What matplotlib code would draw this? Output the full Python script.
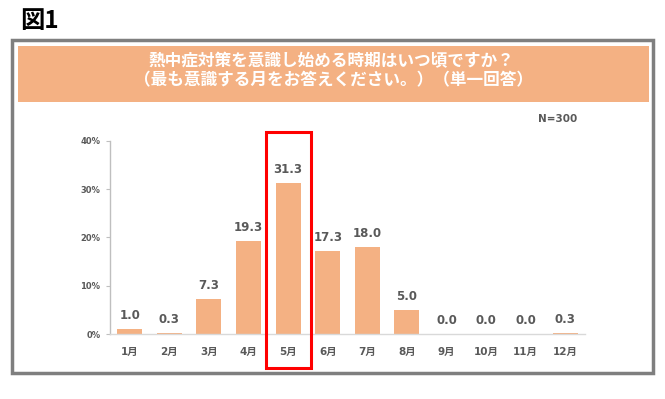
import matplotlib
matplotlib.use("Agg")
import matplotlib.pyplot as plt
from matplotlib.patches import Rectangle
import matplotlib.transforms as mtransforms

plt.rcParams['font.family'] = ['Noto Sans CJK JP', 'DejaVu Sans']

months = ['1月', '2月', '3月', '4月', '5月', '6月', '7月', '8月', '9月', '10月', '11月', '12月']
values = [1.0, 0.3, 7.3, 19.3, 31.3, 17.3, 18.0, 5.0, 0.0, 0.0, 0.0, 0.3]
yticks = [0, 10, 20, 30, 40]
ytick_labels = ['0%', '10%', '20%', '30%', '40%']
highlight = '5月'
title_lines = ['熱中症対策を意識し始める時期はいつ頃ですか？', '（最も意識する月をお答えください。）（単一回答）']
fig_label = '図1'
n_label = 'N=300'

W, H = 665, 399
fig = plt.figure(figsize=(W / 100, H / 100), dpi=100)

def fx(px):
    return px / W

def fy(py):
    return 1 - py / H

bar_color = '#F4B183'
text_color = '#595959'
num_font = ['DejaVu Sans', 'Noto Sans CJK JP']

# Figure label
fig.text(fx(20), fy(21), fig_label, fontsize=17.5, fontweight='bold', color='black',
         ha='left', va='center')

# Outer frame
fig.patches.append(Rectangle((fx(11.5), fy(373)), fx(653) - fx(11.5), fy(40) - fy(373),
                             transform=fig.transFigure, facecolor='white',
                             edgecolor='#7F7F7F', linewidth=2.5, zorder=-2))
# Header band
fig.patches.append(Rectangle((fx(18), fy(102)), fx(649) - fx(18), fy(46) - fy(102),
                             transform=fig.transFigure, facecolor=bar_color,
                             edgecolor='none', zorder=-1))
fig.text(fx(331), fy(61), title_lines[0], fontsize=12, fontweight='bold', color='white',
         ha='center', va='center')
fig.text(fx(333), fy(80), title_lines[1], fontsize=12, fontweight='bold', color='white',
         ha='center', va='center')
fig.text(fx(577), fy(119), n_label, fontsize=7.5, fontweight='bold', color=text_color,
         ha='right', va='center', family=num_font)

ax = fig.add_axes([fx(110), fy(334), fx(585) - fx(110), fy(141) - fy(334)])
ax.set_zorder(1)
x = list(range(len(months)))
ax.bar(x, values, width=0.63, color=bar_color, zorder=2)
for xi, v in zip(x, values):
    ax.annotate(f'{v:.1f}', (xi, v), xytext=(0, 5), textcoords='offset points',
                ha='center', va='bottom', fontsize=8.5, fontweight='bold', color=text_color,
                family=num_font)

ax.set_xlim(-0.5, 11.5)
ax.set_ylim(0, 40)
ax.set_yticks(yticks)
ax.set_yticklabels(ytick_labels)
ax.set_xticks(x)
ax.set_xticklabels(months)
ax.tick_params(axis='y', length=3, color='#BFBFBF', labelsize=6, labelcolor=text_color, pad=4)
ax.tick_params(axis='x', length=0, labelsize=7.5, labelcolor=text_color, pad=9)
for lab in ax.get_xticklabels() + ax.get_yticklabels():
    lab.set_fontweight('bold')
    lab.set_family(num_font)
for s in ['top', 'right']:
    ax.spines[s].set_visible(False)
ax.spines['left'].set_color('#BFBFBF')
ax.spines['bottom'].set_color('#D9D9D9')
ax.spines['left'].set_linewidth(1)
ax.spines['bottom'].set_linewidth(1)
ax.patch.set_alpha(0)

# Highlight rectangle around the chosen month
hi = months.index(highlight)
trans = mtransforms.blended_transform_factory(ax.transData, fig.transFigure)
ax.add_patch(Rectangle((hi - 0.57, fy(368)), 1.14, fy(132) - fy(368), transform=trans,
                       fill=False, edgecolor='#FF0000', linewidth=2.2, clip_on=False, zorder=5))

fig.savefig('out.png', dpi=100)
